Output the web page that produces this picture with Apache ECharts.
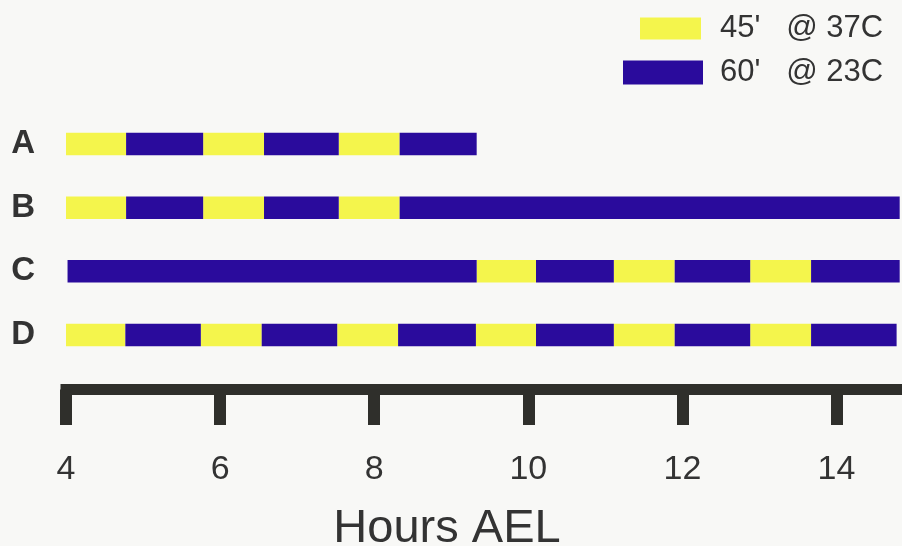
<!DOCTYPE html>
<html>
<head>
<meta charset="utf-8">
<script src="https://cdn.jsdelivr.net/npm/echarts@6/dist/echarts.min.js"></script>
<style>
html,body{margin:0;padding:0;background:#f8f8f6;}
#chart{width:902px;height:546px;}
</style>
</head>
<body>
<div id="chart"></div>
<script>
const categories = ['A', 'B', 'C', 'D'];
const xTicks = [4, 6, 8, 10, 12, 14];
const warmName = "45'   @ 37C";
const coolName = "60'   @ 23C";
// [row, start hour, end hour] — 45' at 37C (yellow)
const warmSegments = [
  ['A', 4.0, 4.78], ['A', 5.78, 6.57], ['A', 7.54, 8.33],
  ['B', 4.0, 4.78], ['B', 5.78, 6.57], ['B', 7.54, 8.33],
  ['C', 9.33, 10.1], ['C', 11.11, 11.9], ['C', 12.88, 13.67],
  ['D', 4.0, 4.77], ['D', 5.75, 6.54], ['D', 7.52, 8.31],
  ['D', 9.32, 10.1], ['D', 11.11, 11.9], ['D', 12.88, 13.67]
];
// [row, start hour, end hour] — 60' at 23C (blue)
const coolSegments = [
  ['A', 4.78, 5.78], ['A', 6.57, 7.54], ['A', 8.33, 9.33],
  ['B', 4.78, 5.78], ['B', 6.57, 7.54], ['B', 8.33, 14.82],
  ['C', 4.02, 9.33], ['C', 10.1, 11.11], ['C', 11.9, 12.88], ['C', 13.67, 14.82],
  ['D', 4.77, 5.75], ['D', 6.54, 7.52], ['D', 8.31, 9.32],
  ['D', 10.1, 11.11], ['D', 11.9, 12.88], ['D', 13.67, 14.78]
];

const YELLOW = '#f4f54c';
const BLUE = '#2a0b9c';
const TEXT = '#333333';
const FONT = '"Liberation Sans", Arial, Helvetica, sans-serif';

function toData(segs) {
  return segs.map(s => [categories.indexOf(s[0]), s[1], s[2]]);
}
function renderItem(params, api) {
  const row = api.value(0);
  const p0 = api.coord([api.value(1), row]);
  const p1 = api.coord([api.value(2), row]);
  const h = 22.5;
  return {
    type: 'rect',
    shape: { x: p0[0], y: p0[1] - h / 2, width: p1[0] - p0[0], height: h },
    style: api.style()
  };
}

const chart = echarts.init(document.getElementById('chart'), null, { renderer: 'canvas' });
chart.setOption({
  backgroundColor: '#f8f8f6',
  animation: false,
  textStyle: { fontFamily: FONT },
  title: {
    text: 'Hours AEL',
    left: 447,
    top: 506,
    textAlign: 'center',
    padding: 0,
    textStyle: { fontFamily: FONT, fontSize: 47, fontWeight: 'normal', color: TEXT, lineHeight: 47 }
  },
  legend: [
    {
      data: [warmName],
      left: 640, top: 13, padding: 0,
      itemWidth: 61, itemHeight: 22,
      icon: 'rect',
      textStyle: { fontFamily: FONT, fontSize: 31, color: TEXT, padding: [0, 0, 7, 14] }
    },
    {
      data: [coolName],
      left: 623, top: 57, padding: 0,
      itemWidth: 80, itemHeight: 24,
      icon: 'rect',
      textStyle: { fontFamily: FONT, fontSize: 31, color: TEXT, padding: [0, 0, 2, 12] }
    }
  ],
  grid: { left: 66, right: 0, top: 112.2, bottom: 179.2, containLabel: false },
  xAxis: {
    type: 'value',
    min: 4,
    max: 14.85,
    interval: 2,
    offset: 22.7,
    splitLine: { show: false },
    axisLine: { show: true, lineStyle: { color: '#2f2f2b', width: 11, cap: 'square' } },
    axisTick: { show: true, length: 35.5, customValues: xTicks, lineStyle: { color: '#2f2f2b', width: 12 } },
    axisLabel: { customValues: xTicks, margin: 63, fontSize: 34, color: TEXT, fontFamily: FONT }
  },
  yAxis: {
    type: 'category',
    data: categories,
    inverse: true,
    axisLine: { show: false },
    axisTick: { show: false },
    splitLine: { show: false },
    axisLabel: { margin: 31, fontSize: 33, fontWeight: 'bold', color: TEXT, fontFamily: FONT, padding: [0, 0, 4, 0] }
  },
  series: [
    {
      name: warmName,
      type: 'custom',
      renderItem: renderItem,
      itemStyle: { color: YELLOW },
      encode: { x: [1, 2], y: 0 },
      data: toData(warmSegments)
    },
    {
      name: coolName,
      type: 'custom',
      renderItem: renderItem,
      itemStyle: { color: BLUE },
      encode: { x: [1, 2], y: 0 },
      data: toData(coolSegments)
    }
  ]
});
</script>
</body>
</html>
